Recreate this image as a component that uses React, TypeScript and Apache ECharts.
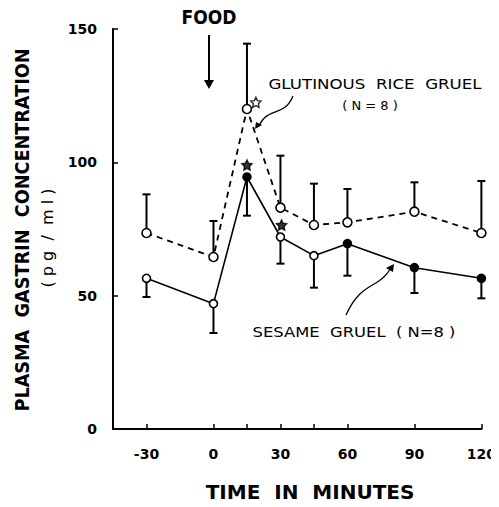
import React, { useEffect, useRef } from "react";
import * as echarts from "echarts";

const times = [-30, 0, 15, 30, 45, 60, 90, 120];
const glutinousMean = [73.5, 64.5, 120, 83, 76.5, 77.5, 81.5, 73.5];
const glutinousUpper = [88, 78, 144.5, 102.5, 92, 90, 92.5, 93];
const sesameMean = [56.5, 47, 94.5, 72, 65, 69.5, 60.5, 56.5];
const sesameLower = [49.5, 36, 80, 62, 53, 57.5, 51, 49];
const sesameFilled = [false, false, true, false, false, true, true, true];
const starPoints: [number, number, boolean][] = [
  [19, 122.5, false],
  [15, 99, true],
  [30.5, 76.5, true],
];
const xTicks = [-30, 0, 15, 30, 45, 60, 90, 120];
const xLabels = [-30, 0, 30, 60, 90, 120];
const yTicks = [0, 50, 100, 150];

const FONT = "DejaVu Sans";
const STAR =
  "path://M0,-10 L2.9,-4 9.5,-3.1 4.8,1.5 5.9,8.1 0,5 -5.9,8.1 -4.8,1.5 -9.5,-3.1 -2.9,-4 Z";

function errorRender(params: any, api: any) {
  const x = api.value(0);
  const y0 = api.value(1);
  const y1 = api.value(2);
  const p0 = api.coord([x, y0]);
  const p1 = api.coord([x, y1]);
  const style = { stroke: "#000", lineWidth: 2 };
  return {
    type: "group",
    children: [
      { type: "line", shape: { x1: p0[0], y1: p0[1], x2: p1[0], y2: p1[1] }, style },
      { type: "line", shape: { x1: p1[0] - 4, y1: p1[1], x2: p1[0] + 4, y2: p1[1] }, style },
    ],
  };
}

export default function App() {
  const ref = useRef<HTMLDivElement>(null);
  useEffect(() => {
    const chart = echarts.init(ref.current!, null, { renderer: "svg" });
    const axisText = { color: "#000", fontFamily: FONT, fontWeight: "bold" as const, fontSize: 14 };
    chart.setOption({
      animation: false,
      backgroundColor: "#fff",
      grid: { left: 113, right: 12, top: 29, bottom: 78, containLabel: false },
      xAxis: {
        type: "value",
        min: -45,
        max: 120,
        splitLine: { show: false },
        axisLine: { onZero: false, lineStyle: { color: "#000", width: 2 } },
        axisTick: { inside: true, length: 5, customValues: xTicks, lineStyle: { color: "#000", width: 1.5 } },
        axisLabel: { ...axisText, margin: 18, customValues: xLabels },
      },
      yAxis: {
        type: "value",
        min: 0,
        max: 150,
        interval: 50,
        splitLine: { show: false },
        axisLine: { onZero: false, lineStyle: { color: "#000", width: 2 } },
        axisTick: { inside: true, length: 5, customValues: yTicks, lineStyle: { color: "#000", width: 1.5 } },
        axisLabel: { ...axisText, margin: 16 },
      },
      graphic: [
        {
          type: "text",
          x: 209,
          y: 17,
          scaleX: 0.9,
          style: { text: "FOOD", fill: "#000", font: `bold 19px '${FONT}'`, align: "center", verticalAlign: "middle" },
        },
        { type: "line", shape: { x1: 209, y1: 35, x2: 209, y2: 82 }, style: { stroke: "#000", lineWidth: 2 } },
        { type: "polygon", shape: { points: [[204, 80], [214, 80], [209, 89]] }, style: { fill: "#000" } },
        {
          type: "text",
          x: 22,
          y: 230,
          rotation: Math.PI / 2,
          scaleX: 0.93,
          style: {
            text: "PLASMA  GASTRIN  CONCENTRATION",
            fill: "#000",
            font: `bold 19px '${FONT}'`,
            align: "center",
            verticalAlign: "middle",
          },
        },
        {
          type: "text",
          x: 47,
          y: 238,
          rotation: Math.PI / 2,
          style: {
            text: "( p g  /  m l )",
            fill: "#000",
            font: `16px '${FONT}'`,
            align: "center",
            verticalAlign: "middle",
          },
        },
        {
          type: "text",
          x: 310,
          y: 492,
          style: {
            text: "TIME  IN  MINUTES",
            fill: "#000",
            font: `bold 20px '${FONT}'`,
            align: "center",
            verticalAlign: "middle",
          },
        },
        {
          type: "text",
          x: 375,
          y: 84,
          scaleX: 1.19,
          style: {
            text: "GLUTINOUS  RICE  GRUEL",
            fill: "#000",
            font: `500 14px '${FONT}'`,
            align: "center",
            verticalAlign: "middle",
          },
        },
        {
          type: "text",
          x: 370,
          y: 105,
          style: { text: "( N = 8 )", fill: "#000", font: `500 13px '${FONT}'`, align: "center", verticalAlign: "middle" },
        },
        {
          type: "text",
          x: 354,
          y: 332,
          scaleX: 1.17,
          style: {
            text: "SESAME  GRUEL  ( N=8 )",
            fill: "#000",
            font: `500 14px '${FONT}'`,
            align: "center",
            verticalAlign: "middle",
          },
        },
        {
          type: "bezierCurve",
          shape: { x1: 293, y1: 96, cpx1: 284, cpy1: 118, cpx2: 268, cpy2: 106, x2: 259, y2: 126 },
          style: { stroke: "#000", lineWidth: 1.3, fill: "none" },
        },
        { type: "polygon", shape: { points: [[255, 129], [256, 122], [262, 125]] }, style: { fill: "#000" } },
        {
          type: "bezierCurve",
          shape: { x1: 346, y1: 315, cpx1: 362, cpy1: 280, cpx2: 378, cpy2: 290, x2: 391, y2: 268 },
          style: { stroke: "#000", lineWidth: 1.3, fill: "none" },
        },
        { type: "polygon", shape: { points: [[394, 264], [386, 268], [393, 272]] }, style: { fill: "#000" } },
      ],
      series: [
        {
          type: "custom",
          renderItem: errorRender,
          data: times.map((t, i) => [t, glutinousMean[i], glutinousUpper[i]]),
          z: 1,
        },
        {
          type: "custom",
          renderItem: errorRender,
          data: times.map((t, i) => [t, sesameMean[i], sesameLower[i]]),
          z: 1,
        },
        {
          type: "line",
          data: times.map((t, i) => [t, glutinousMean[i]]),
          symbol: "circle",
          symbolSize: 9,
          lineStyle: { color: "#000", width: 1.8, type: [6, 5] },
          itemStyle: { color: "#fff", borderColor: "#000", borderWidth: 1.6 },
          z: 3,
        },
        {
          type: "line",
          data: times.map((t, i) => ({
            value: [t, sesameMean[i]],
            itemStyle: { color: sesameFilled[i] ? "#000" : "#fff" },
          })),
          symbol: "circle",
          symbolSize: 8,
          lineStyle: { color: "#000", width: 1.6 },
          itemStyle: { borderColor: "#000", borderWidth: 1.6 },
          z: 3,
        },
        {
          type: "scatter",
          symbol: STAR,
          symbolSize: 10,
          data: starPoints.map((s) => ({
            value: [s[0], s[1]],
            itemStyle: { color: s[2] ? "#000" : "#fff", borderColor: "#000", borderWidth: 1.5 },
          })),
          z: 4,
        },
      ],
    });
    return () => chart.dispose();
  }, []);
  return <div ref={ref} style={{ width: 499, height: 507, margin: -8 }} />;
}
